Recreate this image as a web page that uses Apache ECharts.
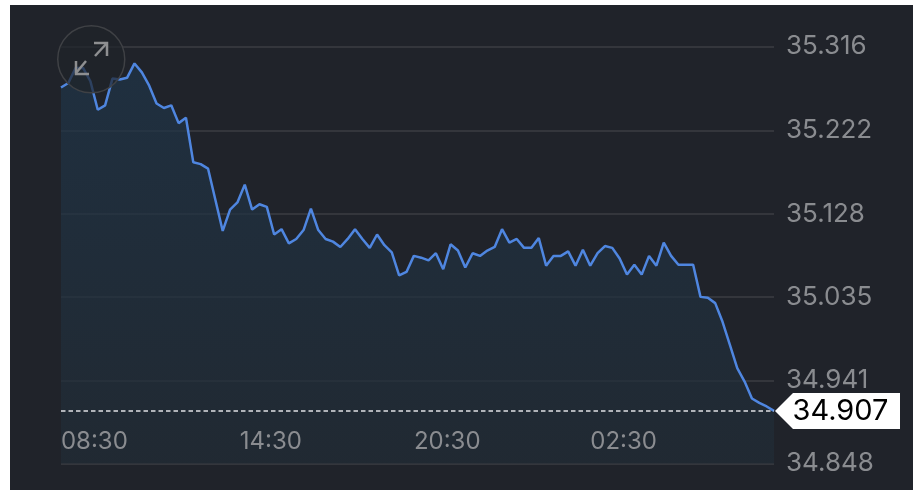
<!DOCTYPE html>
<html>
<head>
<meta charset="utf-8">
<style>
html,body{margin:0;padding:0;background:#fff;width:918px;height:493px;overflow:hidden}
#c{position:absolute;left:10px;top:5px;width:903px;height:485px;background:#20232a}
</style>
<script src="https://cdn.jsdelivr.net/npm/echarts@6/dist/echarts.min.js"></script>
</head>
<body>
<div id="c"></div>
<script>
const prices = [
35.270,35.275,35.292,35.292,35.277,35.245,35.250,35.280,35.279,35.281,
35.297,35.287,35.272,35.252,35.247,35.250,35.230,35.236,35.186,35.184,
35.179,35.144,35.109,35.133,35.141,35.161,35.133,35.139,35.136,35.105,
35.111,35.095,35.100,35.110,35.134,35.110,35.100,35.097,35.091,35.100,
35.111,35.100,35.090,35.105,35.093,35.085,35.059,35.063,35.081,35.079,
35.076,35.084,35.066,35.094,35.087,35.068,35.084,35.081,35.087,35.091,
35.111,35.096,35.100,35.090,35.090,35.101,35.070,35.081,35.081,35.086,
35.070,35.088,35.070,35.084,35.092,35.090,35.078,35.060,35.071,35.060,
35.081,35.070,35.096,35.081,35.071,35.071,35.071,35.035,35.034,35.028,
35.007,34.981,34.955,34.940,34.921,34.916,34.912,34.907];
const yTicks = [34.848,34.941,35.035,35.128,35.222,35.316];
const xTickLabels = ['08:30','14:30','20:30','02:30'];
const lastPrice = 34.907;
const times = [];
for (let i=0,m=7*60+30;i<prices.length;i++,m+=15){
  const t=m%1440;
  times.push(String(Math.floor(t/60)).padStart(2,'0')+':'+String(t%60).padStart(2,'0'));
}
const font='Inter';
const chart = echarts.init(document.getElementById('c'),null,{renderer:'canvas'});
chart.setOption({
  animation:false,
  backgroundColor:'#20232a',
  grid:{left:51,right:139,top:41.5,bottom:26.5,containLabel:false},
  xAxis:{
    type:'category',boundaryGap:false,data:times,z:6,
    axisLine:{show:false},axisTick:{show:false},splitLine:{show:false},
    axisLabel:{
      inside:true,margin:10,color:'#8a8c90',fontFamily:font,fontSize:24,
      interval:(i,v)=>xTickLabels.includes(v),
      padding:[0,0,0,8]
    }
  },
  yAxis:{
    type:'value',position:'right',min:34.848,max:35.316,
    axisLine:{show:false},
    axisTick:{show:false,customValues:yTicks},
    splitLine:{show:true,lineStyle:{color:'#3b3e43',width:1.5}},
    axisLabel:{
      customValues:yTicks,
      color:'#8a8c90',fontFamily:font,fontSize:26,margin:12,
      padding:[0,0,7,0],
      formatter:v=>v.toFixed(3)
    }
  },
  series:[{
    type:'line',data:prices,showSymbol:false,symbol:'none',
    lineStyle:{color:'#4f86e0',width:2.5},
    areaStyle:{color:new echarts.graphic.LinearGradient(0,0,0,1,[
      {offset:0,color:'#1f3549'},{offset:1,color:'#212c36'}
    ])},
    markLine:{
      silent:true,symbol:'none',animation:false,precision:3,
      label:{show:false},
      lineStyle:{color:'#dfe1e3',type:[4.5,3],width:1.5},
      data:[{yAxis:lastPrice}]
    },
    markPoint:{
      silent:true,animation:false,
      data:[{coord:[prices.length-1,lastPrice],
        symbol:'path://M0,18 L18,0 L125,0 L125,36 L18,36 Z',
        symbolSize:[125,36],symbolKeepAspect:false,symbolOffset:[63.5,0],
        itemStyle:{color:'#ffffff'},
        label:{show:true,position:'inside',formatter:lastPrice.toFixed(3),color:'#000',fontFamily:font,fontSize:29,offset:[3,0]}
      }]
    }
  }],
  graphic:[
    {type:'circle',z:50,left:47,top:20,shape:{r:33.5},style:{fill:'rgba(32,35,42,0.7)',stroke:'#3f4145',lineWidth:1.5}},
    {type:'polyline',z:51,shape:{points:[[85,51],[97,38]]},style:{stroke:'#8e8f91',lineWidth:2.5,fill:null}},
    {type:'polyline',z:51,shape:{points:[[84,38],[97,38],[97,51]]},style:{stroke:'#8e8f91',lineWidth:2.5,fill:null}},
    {type:'polyline',z:51,shape:{points:[[76,56],[66,68]]},style:{stroke:'#8e8f91',lineWidth:2.5,fill:null}},
    {type:'polyline',z:51,shape:{points:[[66,56],[66,69],[79,69]]},style:{stroke:'#8e8f91',lineWidth:2.5,fill:null}}
  ]
});
</script>
</body>
</html>
